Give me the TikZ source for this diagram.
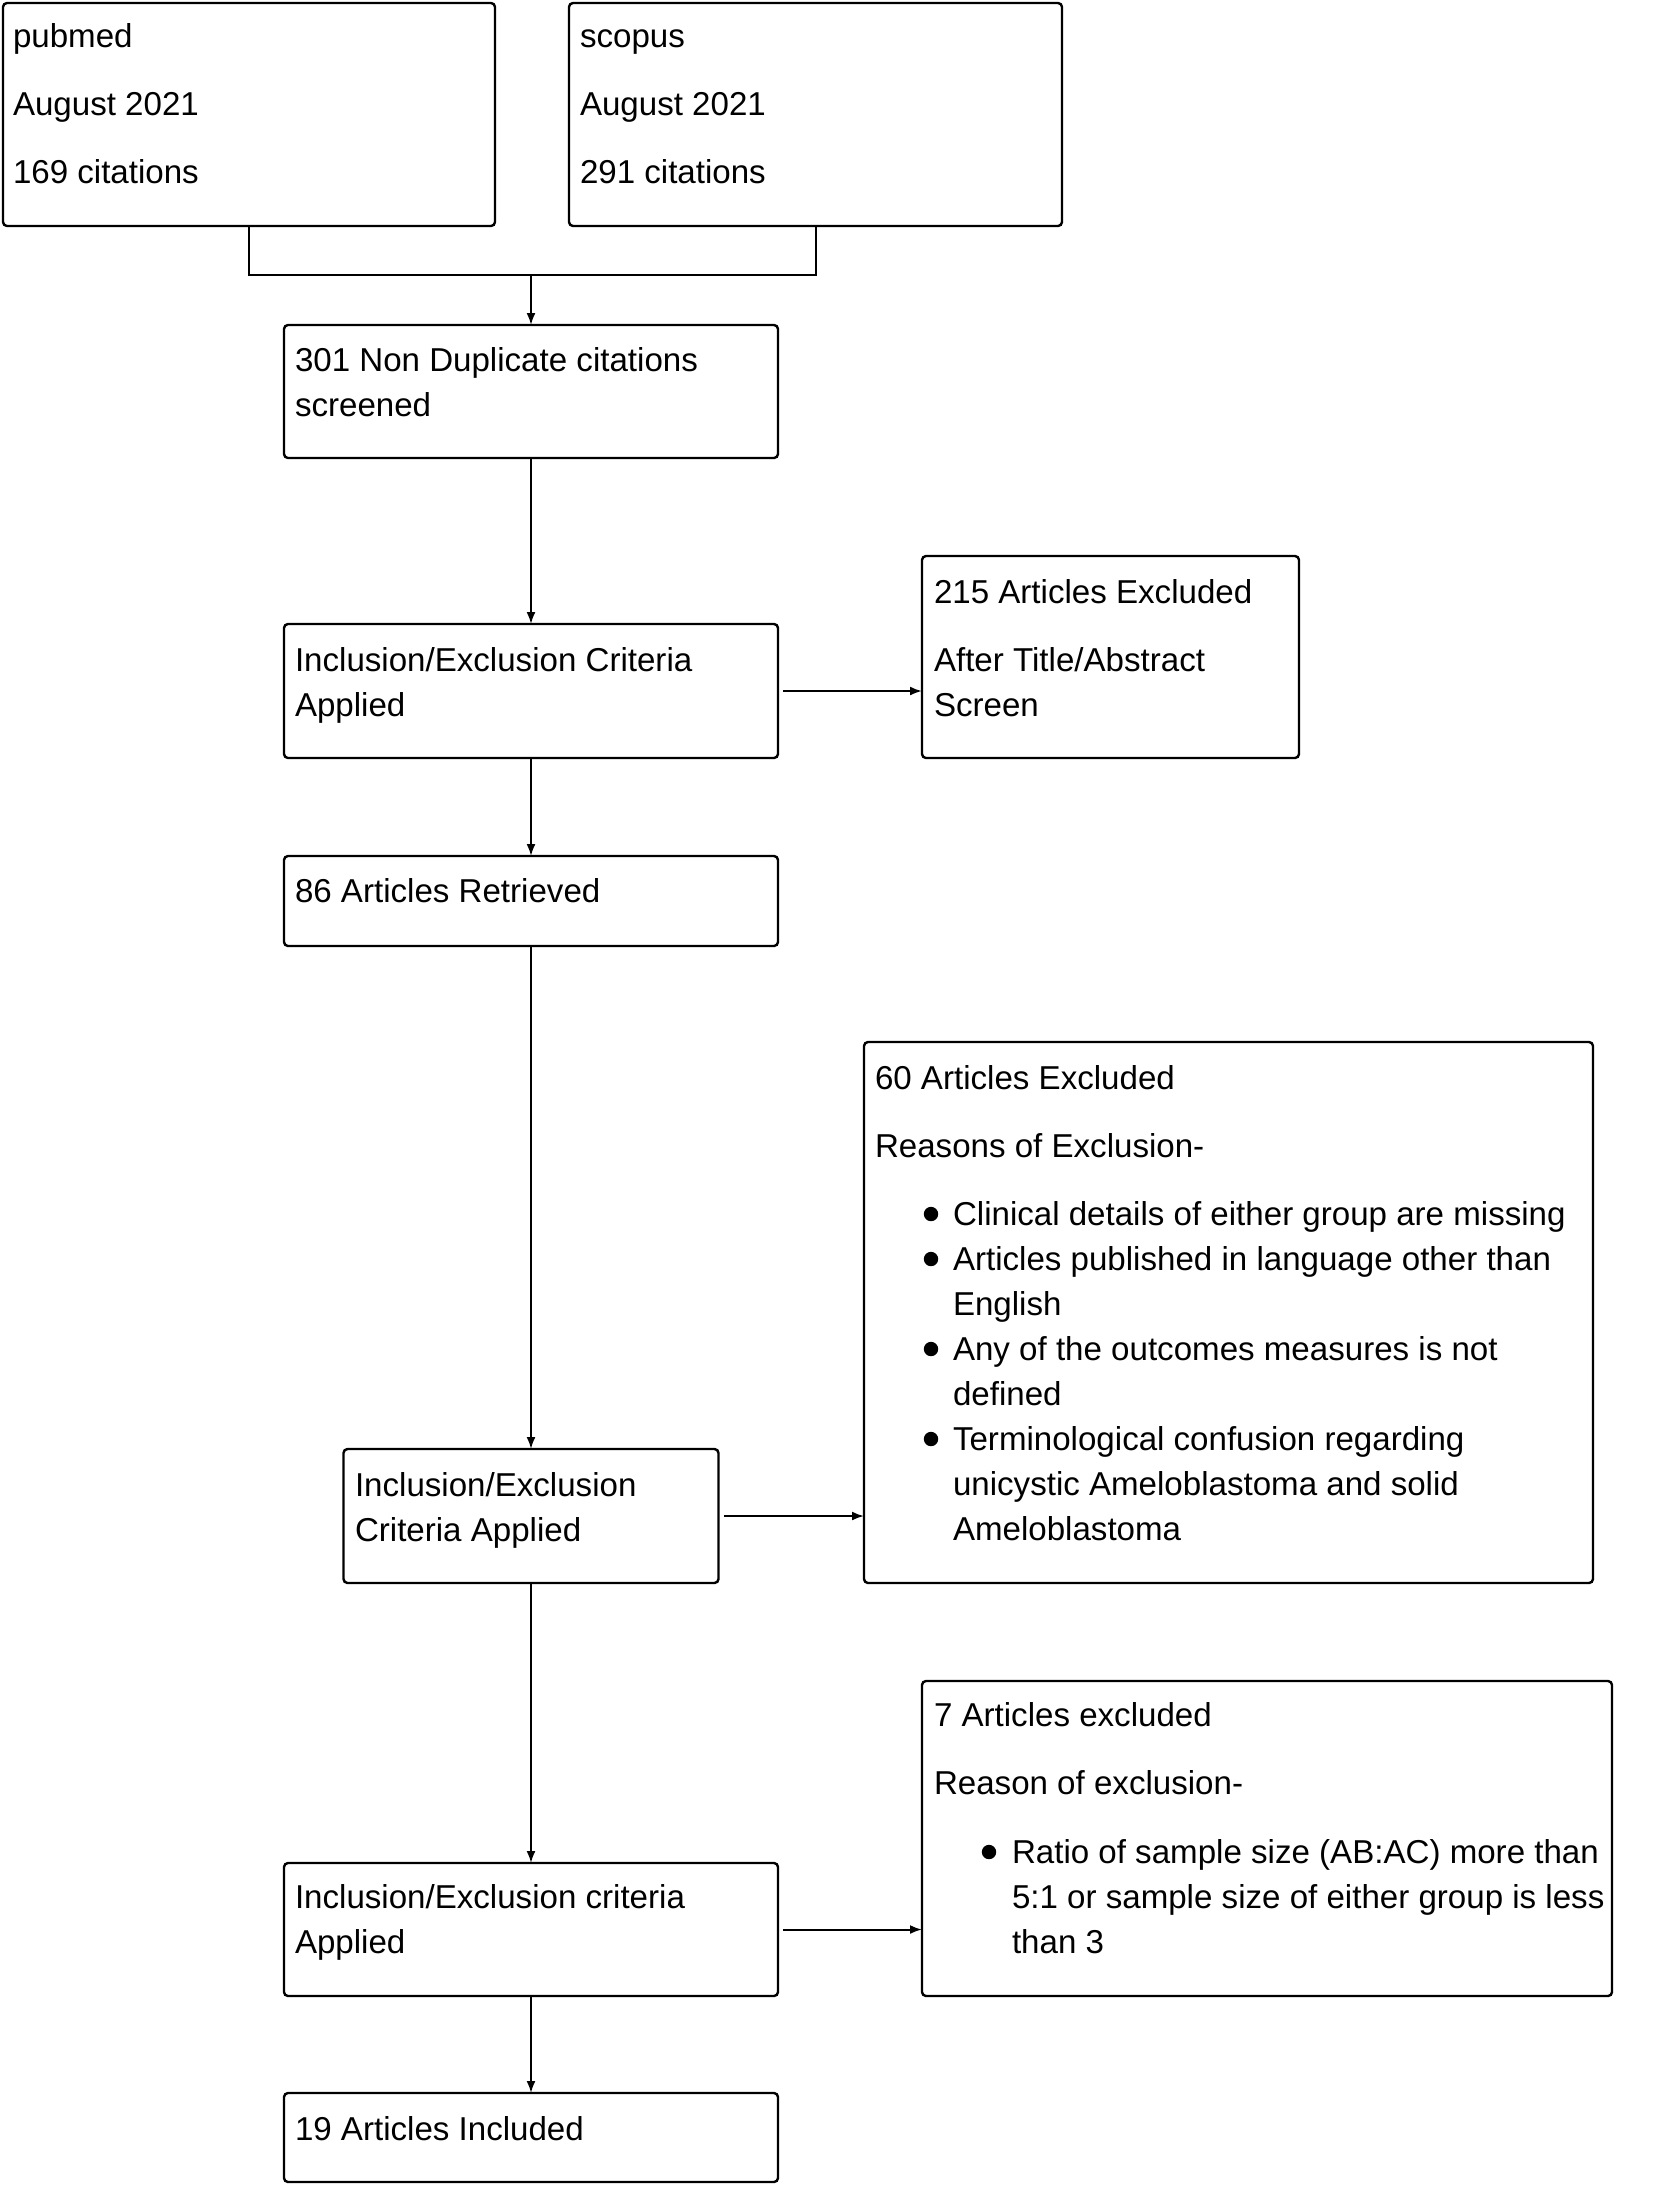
\documentclass[tikz,border=0pt]{standalone}
\usepackage{fontspec}
\setmainfont{Liberation Sans}
\usetikzlibrary{arrows.meta,calc}
\begin{document}
\begin{tikzpicture}[x=0.5pt,y=-0.5pt,
  box/.style={draw=black,fill=white,line width=1.2pt,rounded corners=2pt,inner sep=0pt,outer sep=0pt},
  txt/.style={anchor=base west,inner sep=0pt,outer sep=0pt,font=\fontsize{16.55pt}{22.5pt}\selectfont},
  conn/.style={line width=1pt},
  arr/.style={line width=1pt,-{Latex[length=6pt,width=4.5pt]}},
  bul/.style={fill=black}]
\useasboundingbox (0,0) rectangle (1654,2185);
\fill[white] (0,0) rectangle (1654,2185);

% boxes
\node[box,minimum width=246pt,minimum height=111.5pt] (pub) at (249,114.5) {};
\node[box,minimum width=246.5pt,minimum height=111.5pt] (sco) at (815.5,114.5) {};
\node[box,minimum width=247pt,minimum height=66.5pt] (dup) at (531,391.5) {};
\node[box,minimum width=247pt,minimum height=67pt] (inc1) at (531,691) {};
\node[box,minimum width=188.5pt,minimum height=101pt] (exc1) at (1110.5,657) {};
\node[box,minimum width=247pt,minimum height=45pt] (ret) at (531,901) {};
\node[box,minimum width=364.5pt,minimum height=270.5pt] (exc2) at (1228.5,1312.5) {};
\node[box,minimum width=187.5pt,minimum height=67pt] (inc2) at (531,1516) {};
\node[box,minimum width=345pt,minimum height=157.5pt] (exc3) at (1267,1838.5) {};
\node[box,minimum width=247pt,minimum height=66.5pt] (inc3) at (531,1929.5) {};
\node[box,minimum width=247pt,minimum height=44.5pt] (incl) at (531,2137.5) {};

% texts
\node[txt] (pubA) at (13,47) {pubmed};
\node[txt] (pubB) at (13,115) {August 2021};
\node[txt] (pubC) at (13,183) {169 citations};
\node[txt] (scoA) at (580,47) {scopus};
\node[txt] (scoB) at (580,115) {August 2021};
\node[txt] (scoC) at (580,183) {291 citations};
\node[txt] (dupA) at (295,371) {301 Non Duplicate citations};
\node[txt] (dupB) at (295,416) {screened};
\node[txt] (inc1A) at (295,671) {Inclusion/Exclusion Criteria};
\node[txt] (inc1B) at (295,716) {Applied};
\node[txt] (exc1A) at (934,603) {215 Articles Excluded};
\node[txt] (exc1B) at (934,671) {After Title/Abstract};
\node[txt] (exc1C) at (934,716) {Screen};
\node[txt] (retA) at (295,902) {86 Articles Retrieved};
\node[txt] (exc2A) at (875,1089) {60 Articles Excluded};
\node[txt] (exc2B) at (875,1157) {Reasons of Exclusion-};
\node[txt] (exc2C) at (953,1225) {Clinical details of either group are missing};
\node[txt] (exc2D) at (953,1270) {Articles published in language other than};
\node[txt] (exc2E) at (953,1315) {English};
\node[txt] (exc2F) at (953,1360) {Any of the outcomes measures is not};
\node[txt] (exc2G) at (953,1405) {defined};
\node[txt] (exc2H) at (953,1450) {Terminological confusion regarding};
\node[txt] (exc2I) at (953,1495) {unicystic Ameloblastoma and solid};
\node[txt] (exc2J) at (953,1540) {Ameloblastoma};
\node[txt] (inc2A) at (355,1496) {Inclusion/Exclusion};
\node[txt] (inc2B) at (355,1541) {Criteria Applied};
\node[txt] (exc3A) at (934,1726) {7 Articles excluded};
\node[txt] (exc3B) at (934,1794) {Reason of exclusion-};
\node[txt] (exc3C) at (1012,1863) {Ratio of sample size (AB:AC) more than};
\node[txt] (exc3D) at (1012,1908) {5:1 or sample size of either group is less};
\node[txt] (exc3E) at (1012,1953) {than 3};
\node[txt] (inc3A) at (295,1908) {Inclusion/Exclusion criteria};
\node[txt] (inc3B) at (295,1953) {Applied};
\node[txt] (inclA) at (295,2140) {19 Articles Included};

% bullets
\fill[bul] (931,1214) circle[radius=3.6pt];
\fill[bul] (931,1259) circle[radius=3.6pt];
\fill[bul] (931,1349) circle[radius=3.6pt];
\fill[bul] (931,1439) circle[radius=3.6pt];
\fill[bul] (989,1852) circle[radius=3.6pt];

% connectors
\path (dup.north) ++(0,-50) coordinate (j);
\draw[conn] (pub.south) |- (j) -| (sco.south);
\draw[arr] (j) -- (dup.north);
\draw[arr] (dup.south) -- (inc1.north);
\draw[arr] ([xshift=2.5pt]inc1.east) -- (inc1.east -| exc1.west);
\draw[arr] (inc1.south) -- (ret.north);
\draw[arr] (ret.south) -- (ret.south |- inc2.north);
\draw[arr] ([xshift=2.5pt]inc2.east) -- (inc2.east -| exc2.west);
\draw[arr] (inc2.south -| inc3.north) -- (inc3.north);
\draw[arr] ([xshift=2.5pt]inc3.east) -- (inc3.east -| exc3.west);
\draw[arr] (inc3.south) -- (incl.north);
\end{tikzpicture}
\end{document}
